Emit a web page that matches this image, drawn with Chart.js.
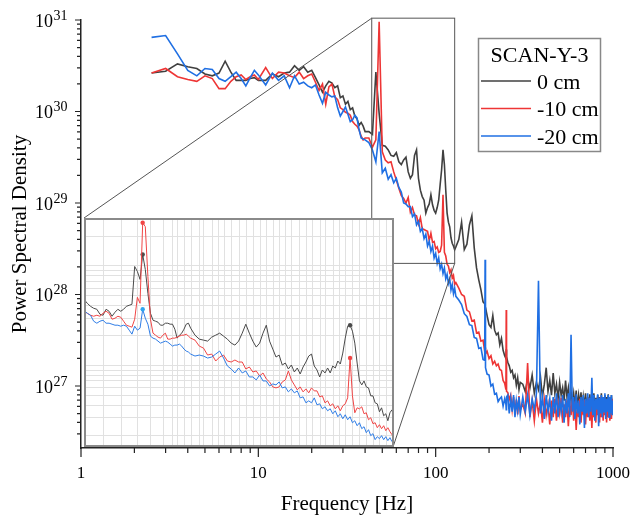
<!DOCTYPE html>
<html>
<head>
<meta charset="utf-8">
<title>SCAN-Y-3 PSD</title>
<script src="https://cdn.jsdelivr.net/npm/chart.js@4.4.1/dist/chart.umd.min.js"></script>
<style>
  html, body { margin: 0; padding: 0; background: #fff; }
  #wrap { position: relative; width: 631px; height: 517px; overflow: hidden; }
  #main { position: absolute; left: 0; top: 0; }
  #inset { position: absolute; background: #fff; }
</style>
</head>
<body>
<div id="wrap">
  <canvas id="main" width="631" height="517"></canvas>
  <canvas id="inset"></canvas>
</div>
<script>
// frequencies in Hz, PSD values written as log10
var freq = [
  2.5, 3, 3.5, 4, 4.5, 5, 5.5, 6, 6.5, 7, 7.5, 8, 8.5, 9, 9.5, 10,
  11, 12, 13, 14, 15, 16, 17, 18, 19, 20, 21, 22, 23, 24, 25, 26, 27, 28, 29, 30,
  31, 32, 33, 34, 35, 36, 37, 38, 39, 40,
  42, 44, 46, 48, 50, 52, 54, 56, 58, 60, 62, 64, 66, 68, 70, 72, 74, 76, 78, 80,
  82, 84, 86, 88, 90, 92, 94, 96, 98, 100, 102, 104, 106, 108, 110, 112, 114, 116, 118, 120,
  122, 124, 126, 128, 130,
  135, 140, 145, 150, 155, 160, 165, 170, 175, 180, 185, 189, 190, 191, 195, 200, 205, 210, 215, 220,
  225, 230, 235, 240, 245, 249, 250, 251, 255, 260, 265, 270, 275, 280, 285, 290, 295, 300,
  310, 320, 330, 340, 350, 360, 370, 380, 390, 400, 410, 420, 430, 440, 450, 460, 470, 480, 490, 500,
  510, 520, 530, 540, 550, 560, 570, 580, 590, 600, 610, 620, 630, 640, 650, 660, 670, 680, 690, 700,
  710, 720, 730, 740, 750, 760, 770, 780, 790, 800, 810, 820, 830, 840, 850, 860, 870, 880, 890, 900,
  910, 920, 930, 940, 950, 960, 970, 980, 990, 1000
];

var psd0cm = [
  30.42, 30.44, 30.52, 30.49, 30.47, 30.41, 30.39, 30.42, 30.55, 30.43, 30.34, 30.34, 30.34, 30.36, 30.37, 30.34,
  30.34, 30.41, 30.38, 30.42, 30.43, 30.50, 30.45, 30.49, 30.43, 30.45, 30.37, 30.29, 30.21, 30.28, 30.33, 30.31, 30.26, 30.28, 30.15, 30.17,
  30.08, 30.11, 30.02, 30.04, 29.95, 29.92, 29.85, 29.88, 29.84, 29.78,
  29.78, 29.75, 30.43, 29.98, 29.63, 29.62, 29.58, 29.52, 29.51, 29.55, 29.45, 29.42, 29.47, 29.50, 29.34, 29.27, 29.31, 29.52, 29.58, 29.27,
  29.14, 29.07, 29.03, 28.89, 28.95, 28.99, 29.09, 28.98, 28.92, 28.89, 28.95, 29.03, 29.20, 29.36, 29.58, 29.42, 29.14, 28.89, 28.79, 28.74,
  28.62, 28.56, 28.53, 28.49, 28.52,
  28.60, 28.79, 28.49, 28.55, 28.76, 28.86, 28.51, 28.29, 28.16, 28.05, 27.92, 27.90, 27.80, 27.86, 27.77, 27.67, 27.64, 27.77, 27.61, 27.56,
  27.58, 27.45, 27.52, 27.39, 27.33, 27.30, 27.40, 27.32, 27.26, 27.22, 27.15, 27.17, 27.09, 27.12, 27.01, 27.09, 26.96, 27.04,
  27.02, 26.94, 27.08, 26.98, 27.12, 26.92, 27.04, 26.96, 27.10, 26.88, 27.02, 27.20, 26.94, 27.06, 26.90, 27.14, 26.92, 27.02, 26.86, 27.04,
  26.90, 26.98, 26.84, 27.06, 26.88, 26.98, 26.82, 26.94, 26.80, 26.92, 26.78, 26.95, 26.76, 26.90, 26.80, 26.93, 26.74, 26.88, 26.78, 26.92,
  26.72, 26.88, 26.76, 26.91, 26.74, 26.86, 26.78, 26.92, 26.72, 26.87, 26.76, 26.90, 26.70, 26.88, 26.75, 26.92, 26.72, 26.86, 26.76, 26.90,
  26.72, 26.88, 26.74, 26.91, 26.73, 26.87, 26.75, 26.90, 26.74, 26.82
];

var psd10cm = [
  30.42, 30.47, 30.38, 30.35, 30.33, 30.39, 30.36, 30.25, 30.25, 30.33, 30.38, 30.40, 30.35, 30.38, 30.40, 30.35,
  30.48, 30.36, 30.43, 30.42, 30.39, 30.37, 30.43, 30.36, 30.39, 30.41, 30.32, 30.23, 30.30, 30.08, 30.27, 30.30, 30.16, 30.13, 30.04, 30.02,
  29.99, 29.98, 29.96, 29.89, 29.86, 29.84, 29.80, 29.73, 29.69, 29.71,
  29.71, 29.61, 29.69, 30.98, 29.56, 29.47, 29.44, 29.45, 29.34, 29.25, 29.16, 29.08, 29.05, 29.00, 29.06, 28.90, 28.95, 28.87, 28.86, 28.77,
  28.84, 28.72, 28.71, 28.70, 28.69, 28.59, 28.67, 28.57, 28.58, 28.50, 28.52, 28.46, 28.47, 28.54, 29.09, 28.46, 28.42, 28.33, 28.31, 28.24,
  28.27, 28.18, 28.21, 28.11, 28.13,
  28.07, 28.00, 27.98, 27.83, 27.81, 27.71, 27.72, 27.58, 27.59, 27.49, 27.50, 27.38, 27.42, 27.35, 27.38, 27.30, 27.33, 27.24, 27.27, 27.22,
  27.24, 27.18, 27.17, 27.06, 27.03, 26.96, 27.83, 26.94, 26.93, 26.85, 26.90, 26.74, 26.88, 26.71, 26.85, 26.69, 26.89, 26.74,
  26.80, 26.70, 27.25, 26.66, 26.84, 26.62, 26.86, 26.70, 26.82, 26.60, 26.85, 26.68, 26.80, 26.58, 26.84, 26.66, 26.86, 26.62, 26.82, 26.70,
  26.87, 26.60, 26.80, 26.66, 26.84, 26.56, 26.82, 26.68, 26.86, 26.62, 26.83, 26.52, 26.80, 26.66, 26.86, 26.60, 26.82, 26.68, 26.85, 26.58,
  26.80, 26.66, 26.87, 26.62, 26.82, 26.54, 26.84, 26.66, 26.80, 26.60, 26.86, 26.68, 26.82, 26.60, 26.88, 26.66, 26.82, 26.62, 26.86, 26.68,
  26.84, 26.60, 26.82, 26.66, 26.87, 26.62, 26.84, 26.64, 26.86, 26.72
];

var psd20cm = [
  30.81, 30.83, 30.63, 30.45, 30.39, 30.47, 30.46, 30.36, 30.33, 30.38, 30.43, 30.36, 30.28, 30.37, 30.45, 30.40,
  30.29, 30.42, 30.34, 30.39, 30.26, 30.39, 30.30, 30.32, 30.28, 30.26, 30.29, 30.18, 30.09, 30.21, 30.18, 30.16, 30.17, 30.04, 29.95, 30.00,
  30.05, 29.97, 29.89, 29.91, 29.96, 29.93, 29.80, 29.71, 29.70, 29.69,
  29.66, 29.58, 29.45, 29.78, 29.33, 29.38, 29.26, 29.31, 29.22, 29.27, 29.17, 29.12, 29.00, 28.99, 28.96, 28.96, 28.85, 28.88, 28.76, 28.80,
  28.69, 28.72, 28.61, 28.66, 28.53, 28.58, 28.47, 28.53, 28.40, 28.45, 28.34, 28.40, 28.28, 28.33, 28.23, 28.29, 28.17, 28.22, 28.12, 28.17,
  28.05, 28.11, 28.01, 28.07, 27.98,
  27.94, 27.89, 27.79, 27.76, 27.67, 27.66, 27.53, 27.52, 27.41, 27.42, 27.29, 27.28, 28.38, 27.20, 27.13, 27.12, 27.00, 27.02, 26.91, 26.92,
  26.83, 26.86, 26.88, 26.78, 26.86, 26.80, 26.74, 26.88, 26.90, 26.70, 26.86, 26.72, 26.90, 26.66, 26.84, 26.73, 26.88, 26.69,
  26.88, 26.72, 26.90, 26.68, 26.86, 26.74, 26.92, 28.15, 26.70, 26.88, 26.64, 26.90, 26.72, 26.86, 26.62, 26.88, 26.70, 26.92, 26.66, 26.85,
  26.72, 26.90, 26.60, 26.86, 26.70, 26.92, 26.66, 27.56, 26.72, 26.88, 26.64, 26.91, 26.70, 26.84, 26.58, 26.88, 26.72, 26.90, 26.54, 26.86,
  26.70, 26.92, 26.66, 26.87, 26.72, 27.09, 26.68, 26.90, 26.62, 26.86, 26.74, 26.91, 26.56, 26.87, 26.70, 26.90, 26.66, 26.88, 26.72, 26.92,
  26.64, 26.86, 26.72, 26.90, 26.66, 26.88, 26.70, 26.90, 26.68, 26.84
];

// inset (zoomed spectrum)
var insetFreq = [
  40, 40.5, 41, 41.5, 42, 42.5, 43, 43.5, 44, 44.5, 45, 45.5, 46, 46.5, 47, 47.5, 48, 48.5, 49, 49.5,
  50, 50.5, 51, 51.5, 52, 52.5, 53, 53.5, 54, 54.5, 55, 55.5, 56, 56.5, 57, 57.5, 58, 58.5, 59, 59.5, 60,
  61, 62, 63, 64, 65, 66, 67, 68, 69, 70, 71, 72, 73, 74, 75, 76, 77, 78, 79, 80,
  81, 82, 83, 84, 85, 86, 87, 88, 89, 90, 91, 92, 93, 94, 95, 96, 97, 98, 99, 100,
  101, 102, 103, 104, 105, 106, 107, 108, 109, 110, 111, 112, 113, 114, 115, 116, 117, 118, 119, 120,
  121, 122, 123, 124, 125, 126, 127, 128, 129, 130
];
var inset0cm = [
  29.66, 29.62, 29.59, 29.57, 29.56, 29.51, 29.50, 29.56, 29.54, 29.49, 29.53, 29.56, 29.54, 29.56, 29.59, 29.60, 29.61, 29.99, 29.94, 29.86,
  30.11, 29.96, 29.72, 29.52, 29.45, 29.44, 29.43, 29.40, 29.40, 29.42, 29.42, 29.41, 29.41, 29.36, 29.27, 29.30, 29.32, 29.36, 29.41, 29.42, 29.37,
  29.30, 29.26, 29.25, 29.24, 29.28, 29.30, 29.32, 29.29, 29.26, 29.22, 29.20, 29.24, 29.32, 29.41, 29.32, 29.24, 29.18, 29.22, 29.32, 29.40,
  29.24, 29.16, 29.08, 29.10, 29.00, 29.02, 28.96, 29.00, 28.93, 28.97, 28.91, 28.98, 29.03, 29.09, 29.11, 28.99, 28.95, 28.88, 28.95, 28.92,
  28.97, 28.92, 28.99, 28.97, 29.04, 29.01, 29.12, 29.27, 29.39, 29.40, 29.34, 29.22, 29.02, 28.84, 28.80, 28.84, 28.78, 28.77, 28.69, 28.69,
  28.62, 28.61, 28.53, 28.57, 28.49, 28.51, 28.44, 28.52, 28.55, 28.54
];
var inset10cm = [
  29.54, 29.52, 29.50, 29.49, 29.50, 29.49, 29.52, 29.54, 29.52, 29.46, 29.47, 29.49, 29.48, 29.44, 29.40, 29.39, 29.38, 29.46, 29.68, 29.62,
  30.43, 30.39, 29.89, 29.46, 29.32, 29.30, 29.28, 29.27, 29.30, 29.32, 29.26, 29.26, 29.27, 29.27, 29.28, 29.29, 29.30, 29.30, 29.31, 29.29, 29.27,
  29.25, 29.19, 29.17, 29.10, 29.11, 29.04, 29.08, 29.10, 29.04, 29.03, 29.05, 29.03, 29.03, 28.96, 28.98, 28.93, 28.94, 28.89, 28.92, 28.86,
  28.83, 28.78, 28.77, 28.78, 28.83, 28.85, 28.94, 28.85, 28.80, 28.75, 28.78, 28.73, 28.76, 28.72, 28.77, 28.74, 28.74, 28.68, 28.69, 28.62,
  28.64, 28.59, 28.61, 28.56, 28.59, 28.54, 28.59, 28.61, 28.67, 29.07, 28.69, 28.52, 28.57, 28.56, 28.58, 28.51, 28.52, 28.45, 28.47, 28.41,
  28.42, 28.37, 28.40, 28.36, 28.39, 28.34, 28.37, 28.33, 28.30, 28.25
];
var inset20cm = [
  29.55, 29.52, 29.50, 29.44, 29.42, 29.44, 29.45, 29.42, 29.42, 29.41, 29.40, 29.40, 29.39, 29.40, 29.39, 29.35, 29.31, 29.39, 29.35, 29.37,
  29.56, 29.47, 29.41, 29.29, 29.27, 29.26, 29.24, 29.22, 29.23, 29.24, 29.23, 29.21, 29.19, 29.20, 29.20, 29.21, 29.19, 29.16, 29.14, 29.13, 29.11,
  29.09, 29.10, 29.09, 29.07, 29.08, 29.11, 29.14, 29.07, 28.99, 28.96, 28.92, 28.97, 28.92, 28.94, 28.88, 28.88, 28.85, 28.90, 28.84, 28.84,
  28.79, 28.81, 28.80, 28.83, 28.77, 28.78, 28.73, 28.76, 28.72, 28.74, 28.67, 28.68, 28.62, 28.64, 28.62, 28.67, 28.60, 28.61, 28.56, 28.58,
  28.54, 28.56, 28.51, 28.54, 28.48, 28.51, 28.46, 28.50, 28.45, 28.48, 28.42, 28.44, 28.39, 28.42, 28.36, 28.38, 28.32, 28.35, 28.29, 28.31,
  28.25, 28.28, 28.26, 28.29, 28.25, 28.28, 28.24, 28.27, 28.23, 28.25
];
var peaks0cm = [50, 110];
var peaks10cm = [50, 110];
var peaks20cm = [50];

var labels = ['0 cm', '-10 cm', '-20 cm'];
var colors = ['#404040', '#ee3535', '#1f6fe3'];
var legendTitle = 'SCAN-Y-3';
var xTicks = [1, 10, 100, 1000];
var yPowers = [27, 28, 29, 30, 31];
var minorSteps = [2, 3, 4, 5, 6, 7, 8, 9];
var zoomFreq = [43.6, 128];      // Hz range of the boxed region
var zoomLog = [28.34, 31.02];    // log10 PSD range of the boxed region
var insetGridFreq = [43, 46, 49, 51.5, 54, 56, 57, 58.5, 60, 62, 63, 65, 66.5, 68, 70, 72, 74, 76, 78, 80,
  82, 84, 86, 88, 90.5, 93, 95, 98, 100, 103, 105.5, 108, 111, 114, 117, 120, 123, 126];
var insetGridExp = [28, 29, 30];

var serif = "'Liberation Serif', 'Times New Roman', serif";
var insetBox = { left: 84, top: 218, width: 310, height: 229 };

function toPoints(f, logs) {
  return f.map(function (x, i) { return { x: x, y: Math.pow(10, logs[i]) }; });
}

var mainDecor = {
  id: 'mainDecor',
  afterDraw: function (chart) {
    var ctx = chart.ctx, xs = chart.scales.x, ys = chart.scales.y;
    var left = chart.chartArea.left, bottom = chart.chartArea.bottom;
    ctx.save();
    ctx.strokeStyle = '#222';
    ctx.lineWidth = 1.2;
    ctx.beginPath();
    xTicks.forEach(function (v, i) {
      var px = xs.getPixelForValue(v);
      ctx.moveTo(px, bottom); ctx.lineTo(px, bottom + 9);
      if (i < xTicks.length - 1) {
        minorSteps.forEach(function (m) {
          var mx = xs.getPixelForValue(v * m);
          ctx.moveTo(mx, bottom); ctx.lineTo(mx, bottom + 5);
        });
      }
    });
    yPowers.forEach(function (p) {
      var py = ys.getPixelForValue(Math.pow(10, p));
      ctx.moveTo(left, py); ctx.lineTo(left - 6, py);
    });
    [yPowers[0] - 1].concat(yPowers).forEach(function (p) {
      minorSteps.forEach(function (m) {
        var v = m * Math.pow(10, p);
        if (v < ys.min || v > ys.max) return;
        var py = ys.getPixelForValue(v);
        ctx.moveTo(left, py); ctx.lineTo(left - 4, py);
      });
    });
    ctx.stroke();

    // y tick labels with superscript exponents
    ctx.fillStyle = '#000';
    ctx.textBaseline = 'middle';
    yPowers.forEach(function (p) {
      var py = ys.getPixelForValue(Math.pow(10, p));
      ctx.font = '18px ' + serif;
      ctx.textAlign = 'right';
      ctx.fillText('10', 53, py + 2);
      ctx.font = '14px ' + serif;
      ctx.textAlign = 'left';
      ctx.fillText(String(p), 53.5, py - 4);
    });

    // zoom box and connector lines
    var x1 = xs.getPixelForValue(zoomFreq[0]), x2 = xs.getPixelForValue(zoomFreq[1]);
    var yTop = ys.getPixelForValue(Math.pow(10, zoomLog[1])), yBot = ys.getPixelForValue(Math.pow(10, zoomLog[0]));
    ctx.strokeStyle = '#555';
    ctx.lineWidth = 1;
    ctx.strokeRect(x1, yTop, x2 - x1, yBot - yTop);
    ctx.beginPath();
    ctx.moveTo(x1, yTop); ctx.lineTo(insetBox.left, insetBox.top);
    ctx.moveTo(x2, yBot); ctx.lineTo(insetBox.left + insetBox.width - 1, insetBox.top + insetBox.height);
    ctx.stroke();

    // legend
    ctx.strokeStyle = '#888';
    ctx.lineWidth = 1.5;
    ctx.strokeRect(478.5, 38.5, 122, 113);
    ctx.font = '22px ' + serif;
    ctx.textAlign = 'center';
    ctx.textBaseline = 'alphabetic';
    ctx.fillText(legendTitle, 539.5, 62);
    chart.data.datasets.forEach(function (ds, i) {
      var ry = 81 + i * 27.5;
      ctx.strokeStyle = ds.borderColor;
      ctx.lineWidth = 1.6;
      ctx.beginPath();
      ctx.moveTo(481, ry); ctx.lineTo(531, ry);
      ctx.stroke();
      ctx.textAlign = 'left';
      ctx.fillText(ds.label, 537, ry + 7.5);
    });
    ctx.restore();
  }
};

Chart.defaults.font.family = serif;
Chart.defaults.color = '#000';

var series = [psd0cm, psd10cm, psd20cm];
new Chart(document.getElementById('main'), {
  type: 'line',
  data: {
    datasets: series.map(function (s, i) {
      return {
        label: labels[i], data: toPoints(freq, s),
        borderColor: colors[i], borderWidth: 1.6, pointRadius: 0, tension: 0, order: 3 - i
      };
    })
  },
  options: {
    responsive: false,
    animation: false,
    layout: { padding: { top: 20, right: 0, left: 0, bottom: 0 } },
    plugins: { legend: { display: false }, tooltip: { enabled: false } },
    scales: {
      x: {
        type: 'logarithmic', min: 1, max: 1000, bounds: 'data',
        grid: { display: false, drawTicks: false },
        border: { display: true, color: '#222', width: 1.5 },
        afterBuildTicks: function (s) { s.ticks = xTicks.map(function (v) { return { value: v }; }); },
        afterFit: function (s) { s.height = 69; s.paddingLeft = 0; s.paddingRight = 18; },
        ticks: {
          autoSkip: false, maxRotation: 0, padding: 15, color: '#000',
          font: { family: serif, size: 17 },
          callback: function (v) { return String(v); }
        },
        title: { display: true, text: 'Frequency [Hz]', color: '#000', font: { family: serif, size: 21 }, padding: { top: 0, bottom: 0 } }
      },
      y: {
        type: 'logarithmic', min: 2.1e26, max: 1e31, bounds: 'data',
        grid: { display: false, drawTicks: false },
        border: { display: true, color: '#222', width: 1.5 },
        ticks: { display: false },
        afterFit: function (s) { s.width = 81; s.paddingTop = 0; s.paddingBottom = 0; },
        title: { display: true, text: 'Power Spectral Density', color: '#000', font: { family: serif, size: 21 }, padding: { top: 8, bottom: 0 } }
      }
    }
  },
  plugins: [mainDecor]
});

// inset chart
var insetCanvas = document.getElementById('inset');
insetCanvas.width = insetBox.width;
insetCanvas.height = insetBox.height;
insetCanvas.style.left = insetBox.left + 'px';
insetCanvas.style.top = insetBox.top + 'px';

var insetDecor = {
  id: 'insetDecor',
  beforeDatasetsDraw: function (chart) {
    var ctx = chart.ctx, xs = chart.scales.x, ys = chart.scales.y, a = chart.chartArea;
    ctx.save();
    ctx.strokeStyle = '#e1e1e1';
    ctx.lineWidth = 1;
    ctx.beginPath();
    insetGridFreq.forEach(function (f) {
      var px = Math.round(xs.getPixelForValue(f)) + 0.5;
      ctx.moveTo(px, a.top); ctx.lineTo(px, a.bottom);
    });
    insetGridExp.forEach(function (p) {
      [1].concat(minorSteps).forEach(function (m) {
        var v = m * Math.pow(10, p);
        if (v <= ys.min || v >= ys.max) return;
        var py = Math.round(ys.getPixelForValue(v)) + 0.5;
        ctx.moveTo(a.left, py); ctx.lineTo(a.right, py);
      });
    });
    ctx.stroke();
    ctx.restore();
  },
  afterDraw: function (chart) {
    var ctx = chart.ctx;
    ctx.save();
    ctx.strokeStyle = '#8a8a8a';
    ctx.lineWidth = 2;
    ctx.strokeRect(1, 1, chart.width - 2, chart.height - 2);
    ctx.restore();
  }
};

var insetSeries = [inset0cm, inset10cm, inset20cm];
var insetPeaks = [peaks0cm, peaks10cm, peaks20cm];
var insetColors = ['#4a4a4a', '#f04545', '#2f7de6'];
new Chart(insetCanvas, {
  type: 'line',
  data: {
    datasets: insetSeries.map(function (s, i) {
      return {
        label: labels[i], data: toPoints(insetFreq, s),
        borderColor: insetColors[i], borderWidth: 1, tension: 0, order: 3 - i,
        pointBackgroundColor: i === 2 ? '#2fa4f0' : insetColors[i], pointBorderWidth: 0,
        pointRadius: function (c) { return insetPeaks[i].indexOf(insetFreq[c.dataIndex]) >= 0 ? 2.2 : 0; }
      };
    })
  },
  options: {
    responsive: false,
    animation: false,
    layout: { padding: 0 },
    plugins: { legend: { display: false }, tooltip: { enabled: false } },
    scales: {
      x: { type: 'logarithmic', min: 40, max: 130, bounds: 'data', display: false },
      y: { type: 'logarithmic', min: 1.5e28, max: 3e30, bounds: 'data', display: false }
    }
  },
  plugins: [insetDecor]
});
</script>
</body>
</html>
